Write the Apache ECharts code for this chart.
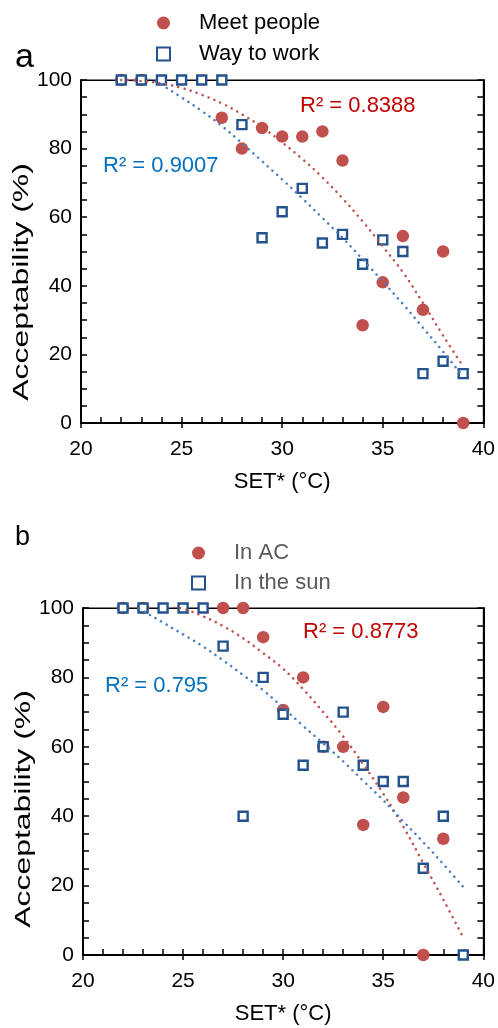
<!DOCTYPE html>
<html>
<head>
<meta charset="utf-8">
<script src="https://cdn.jsdelivr.net/npm/echarts@6/dist/echarts.min.js"></script>
<style>
html,body{margin:0;padding:0;background:#fff;}
#chart{width:498px;height:1028px;}
</style>
</head>
<body>
<div id="chart"></div>
<script>
// ---- Panel a data ----
const meetX = [22, 23, 27, 28, 29, 30, 31, 32, 33, 34, 35, 36, 37, 38, 39];
const meetY = [100, 100, 89, 80, 86, 83.5, 83.5, 85, 76.5, 28.5, 41, 54.5, 33, 50, 0];
const workX = [22, 23, 24, 25, 26, 27, 28, 29, 30, 31, 32, 33, 34, 35, 36, 37, 38, 39];
const workY = [100, 100, 100, 100, 100, 100, 87, 54, 61.6, 68.4, 52.5, 55, 46.3, 53.4, 50, 14.4, 18, 14.4];
// trendlines
const trendX = [22, 23, 24, 25, 26, 27, 28, 29, 30, 31, 32, 33, 34, 35, 36, 37, 38, 39];
const meetTrend = [100, 99.7, 99, 97.7, 95.7, 93.2, 90, 86.3, 81.8, 77, 71.6, 65.5, 58.8, 51.5, 44, 35, 25.5, 16.5];
const workTrend = [104.5, 101.7, 98.6, 94.9, 91, 86.6, 81.6, 76.3, 71, 65.5, 59.8, 54, 47.7, 41.3, 34.7, 27.8, 20.8, 13.5];
const r2A = ['R² = 0.8388', 'R² = 0.9007'];

// ---- Panel b data ----
const acX = [22, 23, 27, 28, 29, 30, 31, 32, 33, 34, 35, 36, 37, 38];
const acY = [100, 100, 100, 100, 91.6, 70.6, 80, 60, 60, 37.5, 71.5, 45.4, 0, 33.5];
const sunX = [22, 23, 24, 25, 26, 27, 28, 29, 30, 31, 32, 33, 34, 35, 36, 37, 38, 39];
const sunY = [100, 100, 100, 100, 100, 89, 40, 80, 69.4, 54.7, 60, 70, 54.7, 50, 50, 25, 40, 0];
const acTrend = [101, 101.3, 101, 99.8, 97.6, 94.8, 91.3, 87, 82.5, 76.6, 70, 63, 55, 46.5, 37, 26.5, 16, 5];
const sunTrend = [103, 99.2, 95.8, 92.4, 88.9, 84.9, 80.7, 76.3, 71.3, 66, 61, 55.8, 50.2, 44.6, 38.5, 32.5, 26.2, 19.6];
const r2B = ['R² = 0.8773', 'R² = 0.795'];

const xTickLabels = [20, 25, 30, 35, 40];
const yTickLabels = [0, 20, 40, 60, 80, 100];

const RED = '#C0504D';
const BLUE_M = '#24528C';
const RED_T = '#C0504D';
const BLUE_T = '#4A7EBB';
const FONT = 'Liberation Sans, Arial, sans-serif';

const pair = (xs, ys) => xs.map((x, i) => [x, ys[i]]);

const grids = [
  {left: 81, top: 80, width: 403, height: 343},
  {left: 83, top: 608, width: 404, height: 347}
];

function xAxes(gi) {
  return [
    {gridIndex: gi, type: 'value', min: xTickLabels[0], max: xTickLabels[xTickLabels.length-1], interval: 5, position: 'bottom',
     axisLine: {show: true, onZero: false, lineStyle: {color: '#000', width: 2}},
     axisTick: {show: true, inside: true, length: 6, lineStyle: {color: '#000', width: 1.5}},
     minorTick: {show: true, splitNumber: 5, length: 6, lineStyle: {color: '#000', width: 1.5}},
     splitLine: {show: false},
     axisLabel: {show: true, fontSize: 21, color: '#000', fontFamily: FONT, margin: 16},
     name: 'SET* (°C)', nameLocation: 'middle', nameGap: 48,
     nameTextStyle: {fontSize: 22, color: '#000', fontFamily: FONT}},
    {gridIndex: gi, type: 'value', min: 20, max: 40, interval: 5, position: 'bottom',
     axisLine: {show: false, onZero: false},
     axisTick: {show: true, inside: false, length: 5, lineStyle: {color: '#000', width: 1.5}},
     axisLabel: {show: false}, splitLine: {show: false}},
    {gridIndex: gi, type: 'value', min: 20, max: 40, position: 'top',
     axisLine: {show: true, onZero: false, lineStyle: {color: '#000', width: 1}},
     axisTick: {show: false}, axisLabel: {show: false}, splitLine: {show: false}}
  ];
}
function yAxes(gi) {
  return [
    {gridIndex: gi, type: 'value', min: 0, max: 100, interval: 20, position: 'left',
     axisLine: {show: true, onZero: false, lineStyle: {color: '#000', width: 2}},
     axisTick: {show: true, inside: true, length: 6, lineStyle: {color: '#000', width: 1.5}},
     minorTick: {show: true, splitNumber: 4, length: 6, lineStyle: {color: '#000', width: 1.5}},
     splitLine: {show: false},
     axisLabel: {show: true, fontSize: 21, color: '#000', fontFamily: FONT, margin: 9}},
    {gridIndex: gi, type: 'value', min: 0, max: 100, interval: 20, position: 'right',
     axisLine: {show: true, onZero: false, lineStyle: {color: '#000', width: 2}},
     axisTick: {show: true, inside: true, length: 6, lineStyle: {color: '#000', width: 1.5}},
     minorTick: {show: true, splitNumber: 4, length: 6, lineStyle: {color: '#000', width: 1.5}},
     splitLine: {show: false}, axisLabel: {show: false}}
  ];
}

function circleSeries(name, xs, ys, gi) {
  return {name, type: 'scatter', xAxisIndex: gi*3, yAxisIndex: gi*2, symbol: 'circle', symbolSize: 12.5,
    itemStyle: {color: RED, opacity: 1}, z: 3, data: pair(xs, ys)};
}
function squareSeries(name, xs, ys, gi) {
  return {name, type: 'scatter', xAxisIndex: gi*3, yAxisIndex: gi*2, symbol: 'rect', symbolSize: 9,
    itemStyle: {color: '#fff', borderColor: BLUE_M, borderWidth: 2.4, opacity: 1}, z: 4, data: pair(xs, ys)};
}
function trendSeries(ys, color, gi) {
  return {type: 'line', xAxisIndex: gi*3, yAxisIndex: gi*2, symbol: 'none', smooth: 0.4, clip: true,
    lineStyle: {color, width: 2.5, type: [0.1, 6.3], cap: 'round'}, z: 5, silent: true,
    data: pair(trendX, ys)};
}
function yTitle(cx, cy) {
  return {type: 'text', x: cx, y: cy, rotation: Math.PI / 2, scaleX: 1.45,
    style: {text: 'Acceptability (%)', fontSize: 22, fill: '#000', fontFamily: FONT, align: 'center', verticalAlign: 'middle'}};
}

const chart = echarts.init(document.getElementById('chart'), null, {renderer: 'canvas'});
chart.setOption({
  animation: false,
  backgroundColor: '#fff',
  grid: grids.map(g => Object.assign({show: true, borderColor: '#000', borderWidth: 1, backgroundColor: 'transparent'}, g)),
  xAxis: xAxes(0).concat(xAxes(1)),
  yAxis: yAxes(0).concat(yAxes(1)),
  legend: [
    {data: ['Meet people', 'Way to work'], orient: 'vertical', left: 151, top: 7, itemGap: 9,
     itemWidth: 13, itemHeight: 13,
     textStyle: {fontSize: 22, lineHeight: 20, color: '#000', fontFamily: FONT, padding: [0, 0, 0, 24]}},
    {data: ['In AC', 'In the sun'], orient: 'vertical', left: 186, top: 537, itemGap: 8,
     itemWidth: 13, itemHeight: 13,
     textStyle: {fontSize: 22, lineHeight: 20, color: '#595959', fontFamily: FONT, padding: [0, 0, 0, 24]}}
  ],
  graphic: [
    {type: 'text', left: 15, top: 41, style: {text: 'a', fontSize: 34, fill: '#000', fontFamily: FONT}},
    {type: 'text', left: 15, top: 524, style: {text: 'b', fontSize: 27, fill: '#000', fontFamily: FONT}},
    yTitle(22, 282),
    yTitle(24, 809),
    {type: 'text', left: 300, top: 95, style: {text: r2A[0], fontSize: 22, fill: '#C00000', fontFamily: FONT}},
    {type: 'text', left: 103, top: 155, style: {text: r2A[1], fontSize: 22, fill: '#0070C0', fontFamily: FONT}},
    {type: 'text', left: 303, top: 621, style: {text: r2B[0], fontSize: 22, fill: '#C00000', fontFamily: FONT}},
    {type: 'text', left: 105, top: 675, style: {text: r2B[1], fontSize: 22, fill: '#0070C0', fontFamily: FONT}}
  ],
  series: [
    circleSeries('Meet people', meetX, meetY, 0),
    squareSeries('Way to work', workX, workY, 0),
    trendSeries(meetTrend, RED_T, 0),
    trendSeries(workTrend, BLUE_T, 0),
    circleSeries('In AC', acX, acY, 1),
    squareSeries('In the sun', sunX, sunY, 1),
    trendSeries(acTrend, RED_T, 1),
    trendSeries(sunTrend, BLUE_T, 1)
  ]
});
</script>
</body>
</html>
